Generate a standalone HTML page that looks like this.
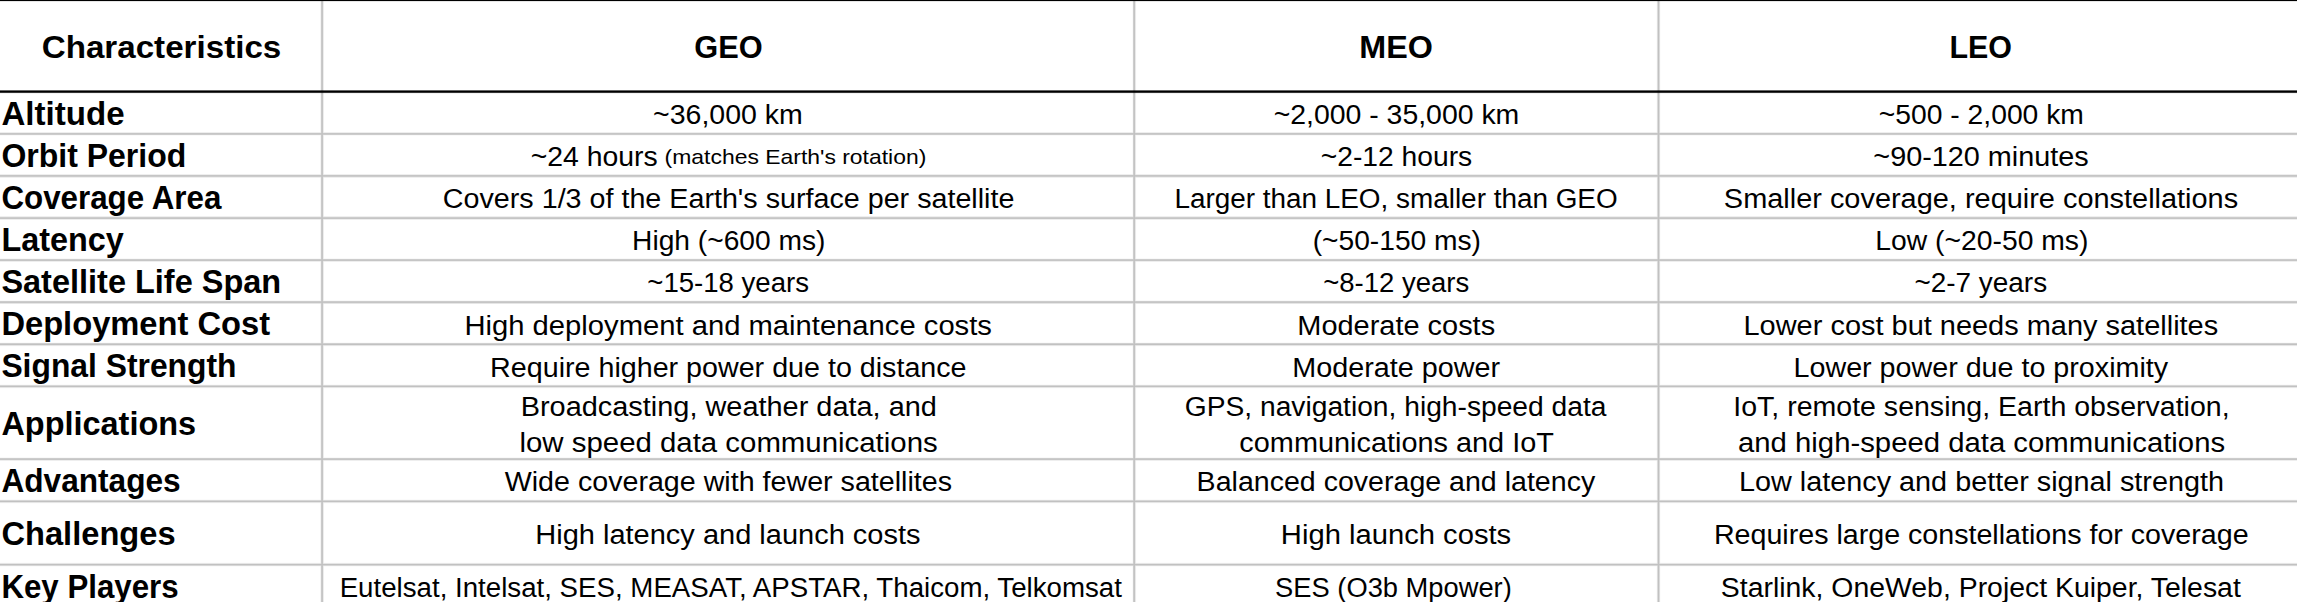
<!DOCTYPE html>
<html lang="en"><head><meta charset="utf-8"><title>GEO vs MEO vs LEO</title>
<style>
html,body{margin:0;padding:0;background:#fff;}
body{width:2297px;height:602px;overflow:hidden;position:relative;font-family:"Liberation Sans",Arial,sans-serif;color:#000;}
#sheet{position:absolute;left:0;top:0;width:2297px;height:602px;overflow:hidden;background:#fff;}
.t{position:absolute;left:0;white-space:nowrap;line-height:40px;transform-origin:0 0;font-weight:400;}
.t.r{font-size:27px;}
.t.s{font-size:21px;}
.t.b{font-size:32.3px;font-weight:700;}
.t.h{font-size:32px;font-weight:700;}
#grid{position:absolute;left:-20px;top:-20px;display:block;}
</style></head><body><div id="sheet">
<svg id="grid" width="2337" height="642" viewBox="-20 -20 2337 642">
<path d="M322.10 -20V622M1134.25 -20V622M1658.50 -20V622M-20 133.88H2317M-20 175.96H2317M-20 218.05H2317M-20 260.13H2317M-20 302.22H2317M-20 344.30H2317M-20 386.39H2317M-20 459.15H2317M-20 501.37H2317M-20 564.60H2317" stroke="#bcbcbc" stroke-width="3.80" stroke-opacity="0.120" fill="none"/>
<path d="M322.10 -20V622M1134.25 -20V622M1658.50 -20V622M-20 133.88H2317M-20 175.96H2317M-20 218.05H2317M-20 260.13H2317M-20 302.22H2317M-20 344.30H2317M-20 386.39H2317M-20 459.15H2317M-20 501.37H2317M-20 564.60H2317" stroke="#bcbcbc" stroke-width="2.40" stroke-opacity="0.545" fill="none"/>
<path d="M322.10 -20V622M1134.25 -20V622M1658.50 -20V622M-20 133.88H2317M-20 175.96H2317M-20 218.05H2317M-20 260.13H2317M-20 302.22H2317M-20 344.30H2317M-20 386.39H2317M-20 459.15H2317M-20 501.37H2317M-20 564.60H2317" stroke="#bcbcbc" stroke-width="1.30" stroke-opacity="0.825" fill="none"/>
<path d="M-20 -0.10H2317M-20 91.68H2317" stroke="#000" stroke-width="3.30" stroke-opacity="0.200" fill="none"/>
<path d="M-20 -0.10H2317M-20 91.68H2317" stroke="#000" stroke-width="2.25" stroke-opacity="1.000" fill="none"/>
</svg>
<span class="t h" style="top:27px;transform:translateX(41.72px) scaleX(1.0359)">Characteristics</span>
<span class="t h" style="top:27px;transform:translateX(694.24px) scaleX(0.9611)">GEO</span>
<span class="t h" style="top:27px;transform:translateX(1359.24px) scaleX(1.0091)">MEO</span>
<span class="t h" style="top:27px;transform:translateX(1949.46px) scaleX(0.9504)">LEO</span>
<span class="t b" style="top:94px;transform:translateX(1.40px) scaleX(1.0244)">Altitude</span>
<span class="t b" style="top:136px;transform:translateX(1.40px) scaleX(0.9906)">Orbit Period</span>
<span class="t b" style="top:178px;transform:translateX(1.40px) scaleX(0.9698)">Coverage Area</span>
<span class="t b" style="top:220px;transform:translateX(1.40px) scaleX(1.0027)">Latency</span>
<span class="t b" style="top:262px;transform:translateX(1.40px) scaleX(1.0055)">Satellite Life Span</span>
<span class="t b" style="top:304px;transform:translateX(1.40px) scaleX(1.0114)">Deployment Cost</span>
<span class="t b" style="top:346px;transform:translateX(1.40px) scaleX(0.9850)">Signal Strength</span>
<span class="t b" style="top:404px;transform:translateX(1.40px) scaleX(1.0047)">Applications</span>
<span class="t b" style="top:461px;transform:translateX(1.40px) scaleX(0.9791)">Advantages</span>
<span class="t b" style="top:514px;transform:translateX(1.40px) scaleX(1.0110)">Challenges</span>
<span class="t b" style="top:567px;transform:translateX(1.40px) scaleX(0.9677)">Key Players</span>
<span class="t r" style="top:95px;transform:translateX(653.04px) scaleX(1.0559)">~36,000 km</span>
<span class="t r" style="top:179px;transform:translateX(442.83px) scaleX(1.0626)">Covers 1/3 of the Earth's surface per satellite</span>
<span class="t r" style="top:221px;transform:translateX(632.12px) scaleX(1.0426)">High (~600 ms)</span>
<span class="t r" style="top:263px;transform:translateX(647.29px) scaleX(1.0213)">~15-18 years</span>
<span class="t r" style="top:306px;transform:translateX(464.43px) scaleX(1.0814)">High deployment and maintenance costs</span>
<span class="t r" style="top:348px;transform:translateX(490.12px) scaleX(1.0616)">Require higher power due to distance</span>
<span class="t r" style="top:95px;transform:translateX(1273.64px) scaleX(1.0524)">~2,000 - 35,000 km</span>
<span class="t r" style="top:137px;transform:translateX(1320.70px) scaleX(1.0460)">~2-12 hours</span>
<span class="t r" style="top:179px;transform:translateX(1174.38px) scaleX(1.0328)">Larger than LEO, smaller than GEO</span>
<span class="t r" style="top:221px;transform:translateX(1312.66px) scaleX(1.0436)">(~50-150 ms)</span>
<span class="t r" style="top:263px;transform:translateX(1323.20px) scaleX(1.0189)">~8-12 years</span>
<span class="t r" style="top:306px;transform:translateX(1297.28px) scaleX(1.0718)">Moderate costs</span>
<span class="t r" style="top:348px;transform:translateX(1292.33px) scaleX(1.0647)">Moderate power</span>
<span class="t r" style="top:95px;transform:translateX(1878.86px) scaleX(1.0464)">~500 - 2,000 km</span>
<span class="t r" style="top:137px;transform:translateX(1873.32px) scaleX(1.0669)">~90-120 minutes</span>
<span class="t r" style="top:179px;transform:translateX(1723.87px) scaleX(1.0709)">Smaller coverage, require constellations</span>
<span class="t r" style="top:221px;transform:translateX(1875.29px) scaleX(1.0479)">Low (~20-50 ms)</span>
<span class="t r" style="top:263px;transform:translateX(1914.41px) scaleX(1.0342)">~2-7 years</span>
<span class="t r" style="top:306px;transform:translateX(1743.52px) scaleX(1.0721)">Lower cost but needs many satellites</span>
<span class="t r" style="top:348px;transform:translateX(1793.52px) scaleX(1.0621)">Lower power due to proximity</span>
<span class="t r" style="top:137px;transform:translateX(530.70px) scaleX(1.0510)">~24 hours</span>
<span class="t s" style="top:137px;transform:translateX(664.57px) scaleX(1.0918)">(matches Earth's rotation)</span>
<span class="t r" style="top:387px;transform:translateX(520.71px) scaleX(1.0705)">Broadcasting, weather data, and</span>
<span class="t r" style="top:423px;transform:translateX(519.50px) scaleX(1.0884)">low speed data communications</span>
<span class="t r" style="top:387px;transform:translateX(1184.80px) scaleX(1.0442)">GPS, navigation, high-speed data</span>
<span class="t r" style="top:423px;transform:translateX(1239.32px) scaleX(1.0696)">communications and IoT</span>
<span class="t r" style="top:387px;transform:translateX(1733.25px) scaleX(1.0566)">IoT, remote sensing, Earth observation,</span>
<span class="t r" style="top:423px;transform:translateX(1737.98px) scaleX(1.0854)">and high-speed data communications</span>
<span class="t r" style="top:462px;transform:translateX(504.65px) scaleX(1.0610)">Wide coverage with fewer satellites</span>
<span class="t r" style="top:462px;transform:translateX(1196.62px) scaleX(1.0579)">Balanced coverage and latency</span>
<span class="t r" style="top:462px;transform:translateX(1739.06px) scaleX(1.0663)">Low latency and better signal strength</span>
<span class="t r" style="top:515px;transform:translateX(535.29px) scaleX(1.0739)">High latency and launch costs</span>
<span class="t r" style="top:515px;transform:translateX(1280.85px) scaleX(1.0808)">High launch costs</span>
<span class="t r" style="top:515px;transform:translateX(1713.88px) scaleX(1.0603)">Requires large constellations for coverage</span>
<span class="t r" style="top:568px;transform:translateX(339.65px) scaleX(1.0248)">Eutelsat, Intelsat, SES, MEASAT, APSTAR, Thaicom, Telkomsat</span>
<span class="t r" style="top:568px;transform:translateX(1275.12px) scaleX(1.0111)">SES (O3b Mpower)</span>
<span class="t r" style="top:568px;transform:translateX(1720.81px) scaleX(1.0521)">Starlink, OneWeb, Project Kuiper, Telesat</span>
</div></body></html>
